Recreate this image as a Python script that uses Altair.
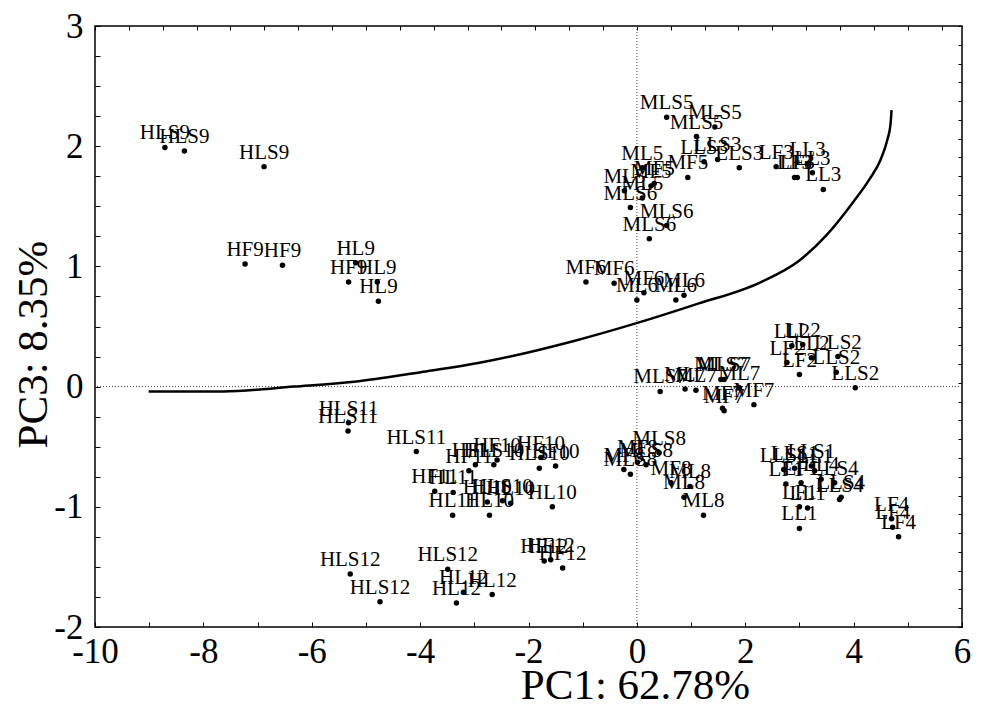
import altair as alt
import pandas as pd

labels = [
    "HLS9", "HLS9", "HLS9",
    "HF9", "HF9", "HF9",
    "HL9", "HL9", "HL9",
    "HLS11", "HLS11", "HLS11",
    "HF11", "HF11", "HF11",
    "HL11", "HL11", "HL10",
    "HLS10", "HLS10", "HLS10",
    "HF10", "HF10", "HF10",
    "HL10", "HL10", "HL10",
    "HLS12", "HLS12", "HLS12",
    "HL12", "HL12", "HL12",
    "HF12", "HF12", "HF12",
    "MLS5", "MLS5", "MLS5",
    "LLS3", "LLS3", "LLS3",
    "MF5", "MF5", "MF5",
    "ML5", "ML5", "ML5",
    "LF3", "LF3", "LF3",
    "LL3", "LL3", "LL3",
    "MLS6", "MLS6", "MLS6",
    "MF6", "MF6", "MF6",
    "ML6", "ML6", "ML6",
    "LL2", "LL2", "LL2",
    "LF2", "LF2",
    "LLS2", "LLS2", "LLS2",
    "MLS7", "MLS7", "MLS7",
    "ML7", "ML7", "ML7",
    "MF7", "MF7", "MF7",
    "MLS8", "MLS8", "MLS8",
    "MF8", "MF8", "MF8",
    "ML8", "ML8", "ML8",
    "LLS1", "LLS1", "LLS1",
    "LF1", "LF1", "LF1",
    "LL1", "LL1", "LL1",
    "LLS4", "LLS4", "LLS4",
    "LL4",
    "LF4", "LF4", "LF4",
]
pc1 = [
    -8.71, -8.35, -6.88,
    -7.23, -6.54, -5.32,
    -5.19, -4.79, -4.77,
    -5.32, -5.33, -4.07,
    -2.98, -3.10, -3.73,
    -3.39, -3.40, -2.72,
    -2.64, -1.80, -2.48,
    -1.77, -1.50, -2.58,
    -2.76, -2.33, -1.56,
    -5.29, -4.74, -3.49,
    -3.20, -3.33, -2.67,
    -1.71, -1.59, -1.37,
    0.55, 1.44, 1.10,
    1.24, 1.49, 1.89,
    0.94, 0.26, 0.32,
    0.10, -0.23, 0.10,
    2.57, 2.91, 2.96,
    3.15, 3.24, 3.44,
    -0.12, 0.55, 0.23,
    -0.94, -0.42, 0.13,
    0.00, 0.72, 0.87,
    2.86, 3.06, 3.22,
    2.77, 3.00,
    3.71, 3.68, 4.03,
    0.43, 1.55, 1.61,
    0.89, 1.09, 1.89,
    1.58, 1.61, 2.16,
    0.41, 0.17, -0.12,
    0.63, 0.01, -0.24,
    0.98, 0.87, 1.23,
    2.71, 2.91, 3.22,
    3.03, 2.75, 3.00,
    3.15, 3.00, 3.28,
    3.65, 3.77, 3.74,
    3.40,
    4.70, 4.72, 4.83,
]
pc3 = [
    1.99, 1.96, 1.83,
    1.02, 1.01, 0.87,
    1.03, 0.87, 0.71,
    -0.30, -0.37, -0.54,
    -0.65, -0.70, -0.87,
    -0.88, -1.07, -1.07,
    -0.65, -0.68, -0.95,
    -0.59, -0.66, -0.61,
    -0.96, -0.97, -1.00,
    -1.56, -1.79, -1.52,
    -1.71, -1.80, -1.73,
    -1.45, -1.44, -1.51,
    2.24, 2.16, 2.08,
    1.87, 1.89, 1.82,
    1.74, 1.67, 1.69,
    1.82, 1.63, 1.57,
    1.83, 1.74, 1.74,
    1.85, 1.78, 1.64,
    1.49, 1.34, 1.23,
    0.87, 0.86, 0.78,
    0.72, 0.72, 0.76,
    0.34, 0.35, 0.24,
    0.20, 0.10,
    0.25, 0.12, -0.01,
    -0.04, 0.06, 0.06,
    -0.02, -0.03, -0.01,
    -0.18, -0.20, -0.15,
    -0.55, -0.65, -0.73,
    -0.80, -0.63, -0.69,
    -0.83, -0.92, -1.07,
    -0.69, -0.68, -0.66,
    -0.80, -0.81, -1.00,
    -1.01, -1.18, -0.70,
    -0.80, -0.92, -0.94,
    -0.77,
    -1.10, -1.17, -1.25,
]

curve_x = [-9.01, -7.63, -6.33, -5.22, -3.99, -2.88, -1.16, 0.01, 1.06, 2.29,
           3.00, 3.50, 4.00, 4.30, 4.50, 4.62, 4.68, 4.70]
curve_y = [-0.04, -0.04, 0.00, 0.04, 0.12, 0.20, 0.38, 0.53, 0.68, 0.87,
           1.05, 1.26, 1.54, 1.73, 1.89, 2.05, 2.18, 2.30]

x_ticks = list(range(-10, 7))
y_ticks = [-2 + 0.25 * i for i in range(21)]
top_ticks = [-10 + 0.625 * i for i in range(26)]
right_ticks = [-2 + 0.15625 * i for i in range(33)]

FONT = "Liberation Serif"

pts = pd.DataFrame({"x": pc1, "y": pc3, "label": labels})
curve = pd.DataFrame({"x": curve_x, "y": curve_y, "order": list(range(len(curve_x)))})
zero = pd.DataFrame({"x": [0.0], "y": [0.0]})

xs = alt.Scale(domain=[-10, 6], nice=False, zero=False)
ys = alt.Scale(domain=[-2, 3], nice=False, zero=False)

x_axis = alt.Axis(
    values=x_ticks, orient="bottom", grid=False, domain=False,
    tickSize=5, offset=-5, tickColor="black", tickWidth=1,
    labelExpr="datum.value % 2 == 0 ? '' + datum.value : ''",
    labelFont=FONT, labelFontSize=35, labelColor="black", labelPadding=7,
    labelFlush=False, labelOverlap=False,
    titleFont=FONT, titleFontSize=43, titleFontWeight="normal", titleColor="black",
    titleX=540, titleY=76, titleAlign="center", titleBaseline="alphabetic",
)
y_axis = alt.Axis(
    values=y_ticks, orient="left", grid=False, domain=False,
    tickSize=5, offset=-5, tickColor="black", tickWidth=1,
    labelExpr="datum.value % 1 == 0 ? '' + datum.value : ''",
    labelFont=FONT, labelFontSize=35, labelColor="black", labelPadding=12,
    labelFlush=False, labelOverlap=False,
    titleFont=FONT, titleFontSize=43, titleFontWeight="normal", titleColor="black",
    titleX=-67, titleY=318, titleAngle=270, titleAlign="center", titleBaseline="middle",
)
top_axis = alt.Axis(values=top_ticks, orient="top", grid=False, domain=False, labels=False,
                    tickSize=4, offset=-4, tickColor="black", title=None)
right_axis = alt.Axis(values=right_ticks, orient="right", grid=False, domain=False, labels=False,
                      tickSize=4, offset=-4, tickColor="black", title=None)

vline = alt.Chart(zero).mark_rule(strokeDash=[1, 2], color="#444", strokeWidth=1).encode(
    x=alt.X("x:Q", scale=xs, axis=None)
)
hline = alt.Chart(zero).mark_rule(strokeDash=[1, 2], color="#444", strokeWidth=1).encode(
    y=alt.Y("y:Q", scale=ys, axis=None)
)

curve_line = alt.Chart(curve).mark_line(color="black", strokeWidth=2.5, interpolate="monotone").encode(
    x=alt.X("x:Q", scale=xs, axis=None),
    y=alt.Y("y:Q", scale=ys, axis=None),
    order="order:Q",
)

dots = alt.Chart(pts).mark_circle(size=30, color="black", opacity=1).encode(
    x=alt.X("x:Q", scale=xs, axis=x_axis, title="PC1: 62.78%"),
    y=alt.Y("y:Q", scale=ys, axis=y_axis, title="PC3: 8.35%"),
)

frame_ticks = alt.Chart(pts).mark_circle(opacity=0).encode(
    x=alt.X("x:Q", scale=xs, axis=top_axis),
    y=alt.Y("y:Q", scale=ys, axis=right_axis),
)

texts = alt.Chart(pts).mark_text(
    font=FONT, fontSize=21, color="black", align="center", baseline="alphabetic", dy=-8
).encode(
    x=alt.X("x:Q", scale=xs, axis=None),
    y=alt.Y("y:Q", scale=ys, axis=None),
    text="label:N",
)

chart = alt.layer(vline, hline, curve_line, dots, frame_ticks, texts).resolve_axis(
    x="independent", y="independent"
).properties(
    width=867, height=601,
    autosize=alt.AutoSizeParams(type="none"),
    padding={"left": 87, "top": 18, "right": 12, "bottom": 82},
    background="white",
).configure_view(stroke="black", strokeWidth=1.5)

chart.save("out.html", embed_options={"renderer": "svg", "actions": False})
